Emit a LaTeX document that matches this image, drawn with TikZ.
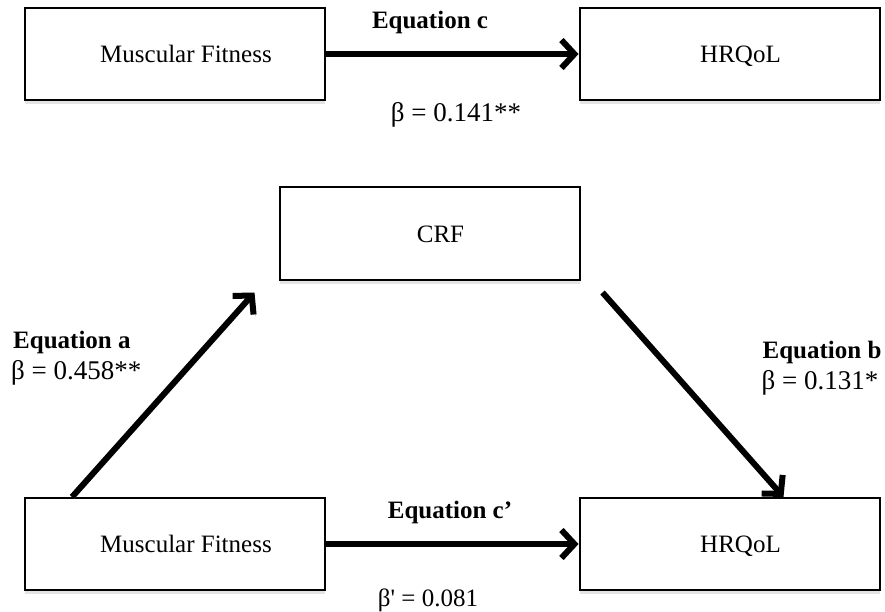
\documentclass[tikz,border=0pt]{standalone}
\usepackage{fontspec}
\setmainfont{Liberation Serif}
\usetikzlibrary{arrows.meta,shadows,calc}

\tikzset{
  box/.style={draw, line width=2pt, fill=white, minimum width=300pt, minimum height=92pt,
    font=\fontsize{25}{30}\selectfont, text height=17pt, text depth=0pt,
    execute at begin node=\hspace*{22pt},
    drop shadow={shadow xshift=0pt, shadow yshift=-4pt, opacity=0.35, fill=gray!60}},
  link/.style={line width=6pt, -{Straight Barb[length=13pt,width=28pt]},
    preaction={draw=gray!50, transform canvas={shift={(2pt,-2pt)}}}},
  lab/.style={font=\fontsize{25}{30}\selectfont, inner sep=0pt},
  coef/.style={font=\fontsize{27}{30}\selectfont, inner sep=0pt},
}

\begin{document}
\begin{tikzpicture}[x=1pt,y=-1pt]
\useasboundingbox (0,0) rectangle (885,612);
% direct effect
\node[box] (mf1) at (175,54) {Muscular Fitness};
\node[box] (hq1) at (729.5,54) {HRQoL};
\draw[link] (mf1.east) -- (hq1.west);
\node[lab] (eqc) at (430,22) {\textbf{Equation c}};
\node[coef] (bc) at (456,115) {β = 0.141**};

% mediation
\node[box] (crf) at (429.5,233.5) {CRF};
\node[box] (mf2) at (175,544) {Muscular Fitness};
\node[box] (hq2) at (729.5,544) {HRQoL};
\coordinate (atail) at ($(mf2.north west)+(48,0)$);
\coordinate (ahead) at ($(crf.south west)+(-24,12)$);
\coordinate (btail) at ($(crf.south east)+(22,12)$);
\coordinate (bhead) at ($(hq2.north west)+(205,0)$);
\draw[link] (atail) -- (ahead);
\draw[link] (btail) -- (bhead);
\draw[link] (mf2.east) -- (hq2.west);
\node[lab, anchor=west] (eqa) at (13,342) {\textbf{Equation a}};
\node[coef, anchor=west] (ba) at (11,373) {β = 0.458**};
\node[lab] (eqb) at (822,352) {\textbf{Equation b}};
\node[coef] (bb) at (820,383) {β = 0.131*};
\node[lab] (eqc2) at (450,512) {\textbf{Equation c’}};
\node[lab] (bc2) at (428,600) {β\textquotesingle{} = 0.081};
\end{tikzpicture}
\end{document}
